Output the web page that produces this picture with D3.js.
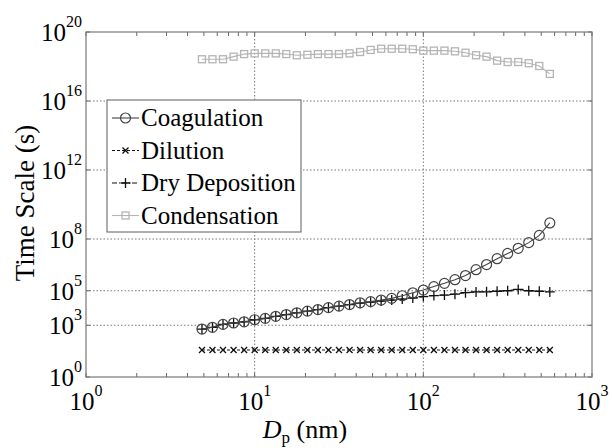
<!DOCTYPE html>
<html>
<head>
<meta charset="utf-8">
<script src="https://cdn.jsdelivr.net/npm/d3@7"></script>
<style>
  body { margin: 0; background: #fff; }
  svg { display: block; font-family: "Liberation Serif", "Times New Roman", serif; }
</style>
</head>
<body>
<div id="chart"></div>
<script>
// particle diameter (nm)
var dp = [4.87, 5.62, 6.49, 7.50, 8.66, 10.0, 11.55, 13.34, 15.40, 17.78,
          20.54, 23.71, 27.38, 31.62, 36.52, 42.17, 48.70, 56.23, 64.94, 74.99,
          86.60, 100.0, 115.5, 133.4, 154.0, 177.8, 205.4, 237.1, 273.8, 316.2,
          365.2, 421.7, 487.0, 562.3];

// time scales (s)
var coagulation = [6.0e2, 7.6e2, 1.12e3, 1.35e3, 1.58e3, 2.09e3, 2.51e3, 3.31e3, 4.17e3, 5.25e3,
                   6.61e3, 8.13e3, 1.05e4, 1.29e4, 1.58e4, 2.0e4, 2.34e4, 2.88e4, 3.63e4, 5.13e4,
                   7.59e4, 1.10e5, 1.74e5, 2.69e5, 4.37e5, 7.59e5, 1.66e6, 3.31e6, 7.24e6, 1.45e7,
                   2.88e7, 6.17e7, 1.62e8, 8.5e8];
var dilution = [37, 37, 37, 37, 37, 37, 37, 37, 37, 37,
                37, 37, 37, 37, 37, 37, 37, 37, 37, 37,
                37, 37, 37, 37, 37, 37, 37, 37, 37, 37,
                37, 37, 37, 37];
var dryDeposition = [6.0e2, 7.6e2, 1.12e3, 1.35e3, 1.58e3, 2.09e3, 2.51e3, 3.31e3, 4.17e3, 5.25e3,
                     6.61e3, 8.13e3, 1.05e4, 1.29e4, 1.58e4, 1.91e4, 2.19e4, 2.51e4, 2.88e4, 3.31e4,
                     3.80e4, 4.57e4, 5.25e4, 5.62e4, 6.31e4, 7.76e4, 8.51e4, 8.71e4, 9.33e4, 1.0e5,
                     1.20e5, 1.0e5, 9.33e4, 8.51e4];
var condensation = [2.63e18, 2.63e18, 2.63e18, 3.72e18, 5.25e18, 5.75e18, 5.75e18, 5.75e18, 5.25e18, 4.47e18,
                    4.79e18, 5.25e18, 5.25e18, 5.25e18, 5.75e18, 6.92e18, 9.12e18, 1.07e19, 1.07e19, 1.07e19,
                    1.0e19, 8.32e18, 8.32e18, 8.32e18, 7.59e18, 6.31e18, 4.47e18, 3.72e18, 2.19e18, 1.82e18,
                    1.82e18, 1.55e18, 1.07e18, 3.72e17];

var xTicks = [1, 10, 100, 1000];
var yTicks = [1, 1e3, 1e5, 1e8, 1e12, 1e16, 1e20];
var seriesNames = ["Coagulation", "Dilution", "Dry Deposition", "Condensation"];

var width = 612, height = 448;
var plotL = 86, plotR = 592, plotT = 32, plotB = 377;

var svg = d3.select("#chart").append("svg")
    .attr("width", width)
    .attr("height", height);

var x = d3.scaleLog().domain([1, 1000]).range([plotL, plotR]);
var y = d3.scaleLog().domain([1, 1e20]).range([plotB, plotT]);

// grid lines (dotted)
var grid = svg.append("g");
grid.selectAll(".gx")
    .data([10, 100])
    .enter().append("line")
    .attr("x1", function(d){ return x(d); })
    .attr("x2", function(d){ return x(d); })
    .attr("y1", plotT).attr("y2", plotB)
    .attr("stroke", "#777").attr("stroke-dasharray", "1.5,2");
grid.selectAll(".gy")
    .data([1e3, 1e5, 1e8, 1e12, 1e16])
    .enter().append("line")
    .attr("x1", plotL).attr("x2", plotR)
    .attr("y1", function(d){ return y(d); })
    .attr("y2", function(d){ return y(d); })
    .attr("stroke", "#777").attr("stroke-dasharray", "1.5,2");

// minor ticks on x (bottom & top, inward)
var xMinor = [];
[1, 10, 100].forEach(function(b){
    for (var m = 2; m <= 9; m++) xMinor.push(b * m);
});
var tickG = svg.append("g").attr("stroke", "#666");
tickG.selectAll(".xb")
    .data(xMinor.concat(xTicks))
    .enter().append("line")
    .attr("x1", function(d){ return x(d); })
    .attr("x2", function(d){ return x(d); })
    .attr("y1", plotB).attr("y2", plotB - 4);
tickG.selectAll(".xt")
    .data(xMinor.concat(xTicks))
    .enter().append("line")
    .attr("x1", function(d){ return x(d); })
    .attr("x2", function(d){ return x(d); })
    .attr("y1", plotT).attr("y2", plotT + 4);
tickG.selectAll(".yl")
    .data(yTicks)
    .enter().append("line")
    .attr("x1", plotL).attr("x2", plotL + 4)
    .attr("y1", function(d){ return y(d); })
    .attr("y2", function(d){ return y(d); });
tickG.selectAll(".yr")
    .data(yTicks)
    .enter().append("line")
    .attr("x1", plotR).attr("x2", plotR - 4)
    .attr("y1", function(d){ return y(d); })
    .attr("y2", function(d){ return y(d); });

// frame
svg.append("rect")
    .attr("x", plotL).attr("y", plotT)
    .attr("width", plotR - plotL).attr("height", plotB - plotT)
    .attr("fill", "none").attr("stroke", "#777").attr("stroke-width", 1.2);

// tick labels
var exp = function(d){ return Math.round(Math.log10(d)); };
var yl = svg.selectAll(".ylab")
    .data(yTicks)
    .enter().append("text")
    .attr("x", 82)
    .attr("y", function(d){ return y(d) + 9; })
    .attr("text-anchor", "end")
    .attr("font-size", 25);
yl.append("tspan").text("10");
yl.append("tspan").attr("dy", -14).attr("font-size", 16).text(function(d){ return exp(d); });

var xl = svg.selectAll(".xlab")
    .data(xTicks)
    .enter().append("text")
    .attr("x", function(d){ return x(d); })
    .attr("y", 410)
    .attr("text-anchor", "middle")
    .attr("font-size", 25);
xl.append("tspan").text("10");
xl.append("tspan").attr("dy", -14).attr("font-size", 16).text(function(d){ return exp(d); });

// axis titles
var xt = svg.append("text")
    .attr("x", 305).attr("y", 438)
    .attr("text-anchor", "middle")
    .attr("font-size", 26);
xt.append("tspan").attr("font-style", "italic").text("D");
xt.append("tspan").attr("dy", 5).attr("font-size", 17).text("p");
xt.append("tspan").attr("dy", -5).text(" (nm)");

svg.append("text")
    .attr("transform", "translate(34,203) rotate(-90)")
    .attr("text-anchor", "middle")
    .attr("font-size", 27)
    .text("Time Scale (s)");

// series
var styles = {
    "Coagulation":    { values: coagulation,   color: "#444", dash: null,        marker: "circle" },
    "Dilution":       { values: dilution,      color: "#111", dash: "3,2",       marker: "x" },
    "Dry Deposition": { values: dryDeposition, color: "#111", dash: "5,2,1,2",   marker: "plus" },
    "Condensation":   { values: condensation,  color: "#b4b4b4", dash: null,     marker: "square" }
};

var drawMarker = function (g, kind, color) {
    if (kind === "circle") {
        g.append("circle").attr("r", 5).attr("fill", "none")
            .attr("stroke", color).attr("stroke-width", 1.2);
    } else if (kind === "x") {
        g.append("path").attr("d", "M-3,-3L3,3M-3,3L3,-3")
            .attr("stroke", color).attr("stroke-width", 1.3);
    } else if (kind === "plus") {
        g.append("path").attr("d", "M-5,0L5,0M0,-5L0,5")
            .attr("stroke", color).attr("stroke-width", 1.3);
    } else if (kind === "square") {
        g.append("rect").attr("x", -3.5).attr("y", -3.5).attr("width", 7).attr("height", 7)
            .attr("fill", "none").attr("stroke", color).attr("stroke-width", 1.3);
    }
};

var line = d3.line()
    .x(function(d){ return x(d[0]); })
    .y(function(d){ return y(d[1]); });

["Condensation", "Dilution", "Dry Deposition", "Coagulation"].forEach(function(name){
    var s = styles[name];
    var pts = dp.map(function(d, i){ return [d, s.values[i]]; });
    var g = svg.append("g");
    g.append("path")
        .datum(pts)
        .attr("d", line)
        .attr("fill", "none")
        .attr("stroke", s.color)
        .attr("stroke-width", 1.1)
        .attr("stroke-dasharray", s.dash);
    g.selectAll(".m")
        .data(pts)
        .enter().append("g")
        .attr("transform", function(d){ return "translate(" + x(d[0]) + "," + y(d[1]) + ")"; })
        .each(function(){ drawMarker(d3.select(this), s.marker, s.color); });
});

// legend
var legend = svg.append("g");
legend.append("rect")
    .attr("x", 107).attr("y", 100)
    .attr("width", 194).attr("height", 132)
    .attr("fill", "#fff").attr("stroke", "#777").attr("stroke-width", 1.2);

var rows = legend.selectAll(".row")
    .data(seriesNames)
    .enter().append("g")
    .attr("transform", function(d, i){ return "translate(0," + (118 + i * 32.5) + ")"; });
rows.append("line")
    .attr("x1", 112).attr("x2", 139)
    .attr("stroke", function(d){ return styles[d].color; })
    .attr("stroke-width", 1.1)
    .attr("stroke-dasharray", function(d){ return styles[d].dash; });
rows.append("g")
    .attr("transform", "translate(125.5,0)")
    .each(function(d){ drawMarker(d3.select(this), styles[d].marker, styles[d].color); });
rows.append("text")
    .attr("x", 141).attr("y", 8)
    .attr("font-size", 25)
    .text(function(d){ return d; });
</script>
</body>
</html>
